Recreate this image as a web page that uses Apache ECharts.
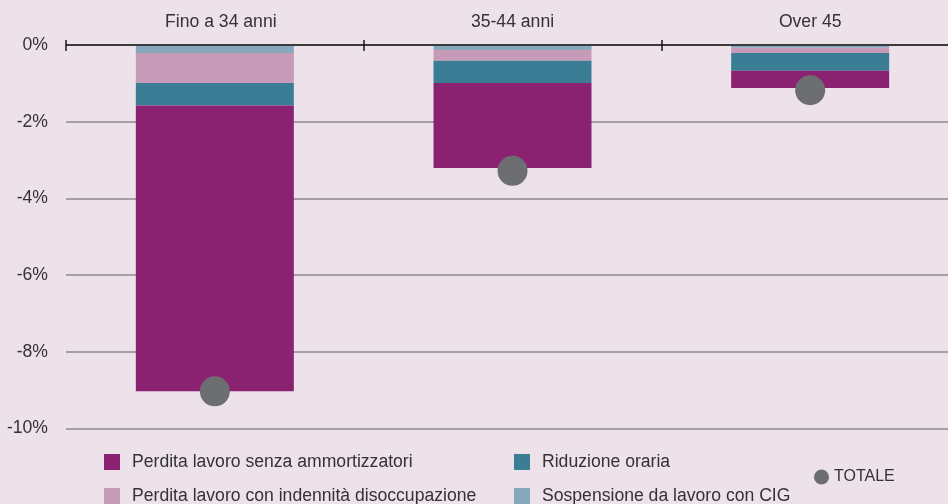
<!DOCTYPE html>
<html>
<head>
<meta charset="utf-8">
<script src="https://cdn.jsdelivr.net/npm/echarts@6/dist/echarts.min.js"></script>
<style>
html,body{margin:0;padding:0;background:#ede1ea;}
#chart{width:948px;height:504px;}
</style>
</head>
<body>
<div id="chart"></div>
<script>
const categories = ['Fino a 34 anni', '35-44 anni', 'Over 45'];
const sospensioneCIG = [-0.21, -0.13, -0.07];
const indennitaDisoccupazione = [-0.78, -0.28, -0.14];
const riduzioneOraria = [-0.59, -0.58, -0.46];
const senzaAmmortizzatori = [-7.45, -2.22, -0.45];
const totale = [-9.03, -3.28, -1.18];
const yTicks = [0, -2, -4, -6, -8, -10];

const names = {
  senza: 'Perdita lavoro senza ammortizzatori',
  indennita: 'Perdita lavoro con indennità disoccupazione',
  riduzione: 'Riduzione oraria',
  cig: 'Sospensione da lavoro con CIG',
  totale: 'TOTALE'
};
const FONT = 'Liberation Sans';
const TXT = '#333333';
const FS = 17.6;

const chart = echarts.init(document.getElementById('chart'), null, {renderer: 'canvas'});
const legendText = {fontSize: FS, color: TXT, fontFamily: FONT, padding: [0, 0, 0, 7]};
function sqLegend(name, left, top) {
  return {
    left: left, top: top, padding: 0,
    itemWidth: 16, itemHeight: 16, icon: 'rect',
    data: [name], textStyle: legendText
  };
}
// first category label sits slightly right of its bar in the reference
const categoryData = categories.map((c, i) => i === 0 ? {value: c, textStyle: {padding: [0, 0, 0, 12]}} : c);

chart.setOption({
  backgroundColor: '#ede1ea',
  animation: false,
  textStyle: {fontFamily: FONT},
  grid: {left: 66, top: 45, width: 893, bottom: 75.5, outerBoundsMode: 'none', containLabel: false},
  xAxis: [{
    type: 'category',
    position: 'top',
    data: categoryData,
    axisLine: {show: true, lineStyle: {color: '#1a1a1a', width: 1.5}},
    axisTick: {show: true, length: 5, lineStyle: {color: '#1a1a1a', width: 1.5}},
    axisLabel: {fontSize: FS, color: TXT, margin: 14, fontFamily: FONT},
    splitLine: {show: false},
    z: 10
  }, {
    type: 'category',
    position: 'top',
    data: categories,
    axisLine: {show: false},
    axisTick: {show: true, inside: true, length: 6, lineStyle: {color: '#1a1a1a', width: 1.5}},
    axisLabel: {show: false},
    splitLine: {show: false},
    z: 10
  }],
  yAxis: {
    type: 'value',
    min: Math.min(...yTicks),
    max: Math.max(...yTicks),
    interval: 2,
    axisLine: {show: false},
    axisTick: {show: false},
    axisLabel: {formatter: '{value}%', fontSize: FS, color: TXT, margin: 18, fontFamily: FONT},
    splitLine: {show: true, lineStyle: {color: '#8e8a8e', width: 1.5}}
  },
  legend: [
    sqLegend(names.senza, 104, 453),
    sqLegend(names.indennita, 104, 487),
    sqLegend(names.riduzione, 514, 453),
    sqLegend(names.cig, 514, 487),
    {
      left: 814, top: 469, padding: 0,
      itemWidth: 15, itemHeight: 15, icon: 'circle',
      data: [names.totale],
      textStyle: {fontSize: 16, color: TXT, fontFamily: FONT}
    }
  ],
  series: [{
    name: names.cig, type: 'bar', stack: 'tot', barWidth: 158,
    itemStyle: {color: '#87a8bb'}, data: sospensioneCIG
  }, {
    name: names.indennita, type: 'bar', stack: 'tot', barWidth: 158,
    itemStyle: {color: '#c59bb7'}, data: indennitaDisoccupazione
  }, {
    name: names.riduzione, type: 'bar', stack: 'tot', barWidth: 158,
    itemStyle: {color: '#3a7d94'}, data: riduzioneOraria
  }, {
    name: names.senza, type: 'bar', stack: 'tot', barWidth: 158,
    itemStyle: {color: '#8b2271'}, data: senzaAmmortizzatori
  }, {
    name: names.totale, type: 'scatter', symbol: 'circle', symbolSize: 30,
    itemStyle: {color: '#6d6e71', opacity: 1}, data: totale, z: 5
  }]
});
</script>
</body>
</html>
